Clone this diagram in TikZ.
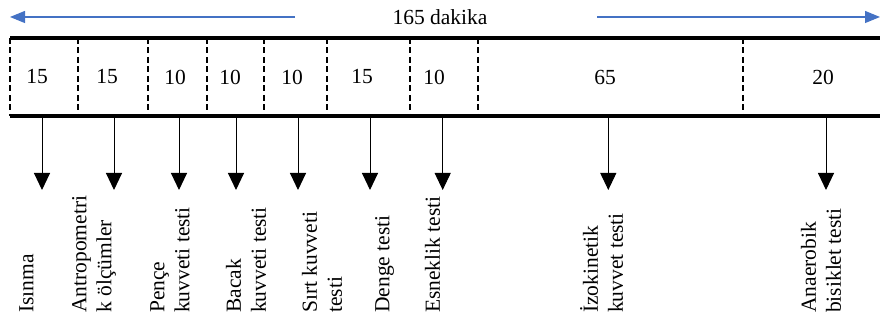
\documentclass[tikz,border=0pt]{standalone}
\usepackage{fontspec}
\setmainfont{Liberation Serif}
\usetikzlibrary{arrows.meta}
\tikzset{
    zahl/.style={font=\fontsize{21.5}{25}\selectfont},
    teiler/.style={line width=1.6pt, dash pattern=on 6pt off 3.5pt},
    rand/.style={line width=3.2pt},
    dauerpfeil/.style={line width=1.2pt, color=blau, -{Triangle[length=15pt,width=12pt]}},
    testpfeil/.style={line width=1pt, -{Triangle[length=17pt,width=16pt]}},
    etikett/.style={rotate=90, anchor=west, align=left, inner sep=0pt,
        font=\fontsize{21.5}{25}\selectfont}
}
\definecolor{blau}{RGB}{68,114,196}
\begin{document}
\begin{tikzpicture}[x=1pt, y=1pt]
        \useasboundingbox (0, 0) rectangle (880, 320);
        % Gesamtdauer
        \node[zahl] (dauer) at (440, 303) {165 dakika};
        \coordinate (lstart) at (295, 303);
        \coordinate (lende)  at (10, 303);
        \coordinate (rstart) at (597, 303);
        \coordinate (rende)  at (880, 303);
        \draw[dauerpfeil] (lstart) -- (lende);
        \draw[dauerpfeil] (rstart) -- (rende);
        % Zeitleiste
        \coordinate (obenL)  at (10, 282);
        \coordinate (obenR)  at (880, 282);
        \coordinate (untenL) at (10, 204);
        \coordinate (untenR) at (880, 204);
        \foreach \x in {10, 78, 148, 207, 264, 327, 410, 478, 743}
        {
            \draw[teiler] (\x, 282) -- (\x, 204);
        }
        \draw[rand] (obenL) -- (obenR);
        \draw[rand] (untenL) -- (untenR);
        % Minuten
        \foreach \x/\m [count=\i] in {37/15, 107/15, 175/10, 230/10, 292/10, 362/15, 434/10, 605/65, 823/20}
        {
            \node[zahl] (min\i) at (\x, 243) {\m};
        }
        % Pfeile
        \foreach \x [count=\i] in {42, 114, 179, 236, 298, 370, 442.7, 608.3, 826}
        {
            \coordinate (p\i) at (\x, 202.5);
            \coordinate (q\i) at (\x, 130);
            \draw[testpfeil] (p\i) -- (q\i);
        }
        % Tests
        \node[etikett] (isinma)   at (26.5, 7)  {Isınma};
        \node[etikett] (antropo)  at (94, 7)    {Antropometri\\k ölçümler};
        \node[etikett] (pence)    at (170, 7)   {Pençe\\kuvveti testi};
        \node[etikett] (bacak)    at (246, 7)   {Bacak\\kuvveti testi};
        \node[etikett] (sirt)     at (322, 7)   {Sırt kuvveti\\testi};
        \node[etikett] (denge)    at (384.5, 7) {Denge testi};
        \node[etikett] (esneklik) at (432.5, 7) {Esneklik testi};
        \node[etikett] (izokin)   at (601.5, 7) {İzokinetik\\kuvvet testi};
        \node[etikett] (anaerob)  at (821, 7)   {Anaerobik\\bisiklet testi};
\end{tikzpicture}
\end{document}
